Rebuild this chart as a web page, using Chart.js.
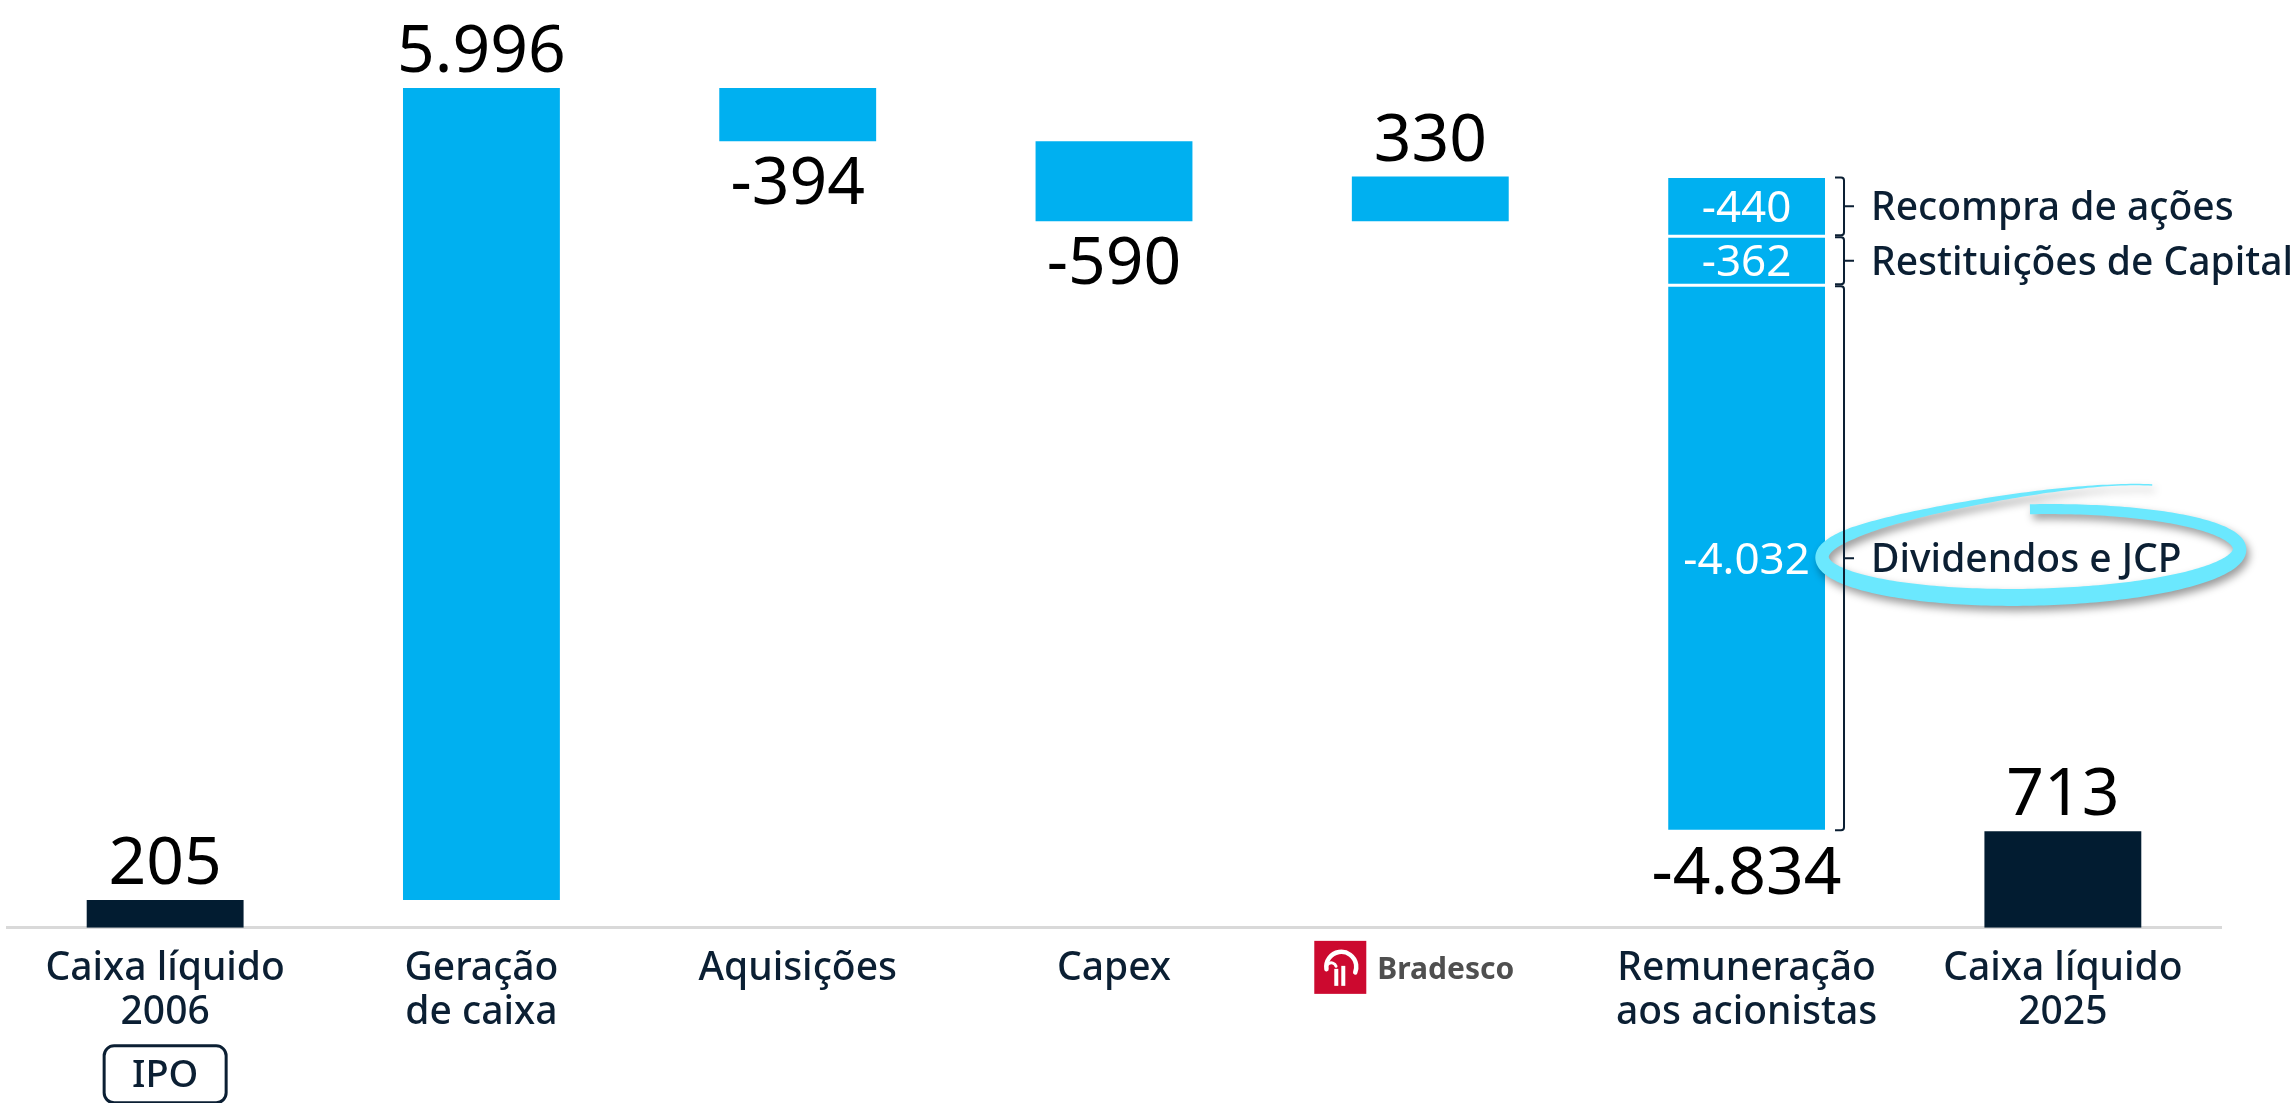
<!DOCTYPE html>
<html lang="pt-BR">
<head>
<meta charset="utf-8">
<title>Caixa líquido 2006 - 2025</title>
<script src="https://cdn.jsdelivr.net/npm/chart.js@4.4.1/dist/chart.umd.min.js"></script>
<style>
  html, body { margin: 0; padding: 0; background: #fff; }
  #wrap { width: 2295px; height: 1103px; position: relative; }
</style>
</head>
<body>
<div id="wrap"><canvas id="cashChart"></canvas></div>
<script>
// x axis categories
var categories = [
  ['Caixa líquido', '2006'],
  ['Geração', 'de caixa'],
  'Aquisições',
  'Capex',
  'Bradesco',
  ['Remuneração', 'aos acionistas'],
  ['Caixa líquido', '2025']
];
// R$ milhões; first and last are balances, the rest are movements
var values  = [205, 5996, -394, -590, 330, -4834, 713];
var isTotal = [true, false, false, false, false, false, true];

// breakdown of the shareholder payout bar
var payoutParts  = [-440, -362, -4032];
var payoutLabels = ['Recompra de ações', 'Restituições de Capital', 'Dividendos e JCP'];
var payoutIndex  = 5;
var logoIndex    = 4;
var highlightPart = 2;

var CYAN = '#00b0f0';
var DARK = '#021c31';
var NAVY = '#0b1f33';
var FONT = '"Noto Sans", "Open Sans", sans-serif';

function fmt(v) {
  var s = Math.abs(v).toString().replace(/\B(?=(\d{3})+(?!\d))/g, '.');
  return (v < 0 ? '-' : '') + s;
}

// floating [from, to] pairs for the waterfall
var run = 0;
var floats = values.map(function(v, i) {
  var pair = isTotal[i] ? [0, v] : [run, run + v];
  run = pair[1];
  return pair;
});
var yMax = Math.max.apply(null, floats.map(function(p) { return Math.max(p[0], p[1]); }));

var mainData = floats.map(function(p, i) { return i === payoutIndex ? null : p; });
var barColors = values.map(function(v, i) { return isTotal[i] ? DARK : CYAN; });

var partStart = floats[payoutIndex][0];
var partSets = payoutParts.map(function(p) {
  var d = categories.map(function() { return null; });
  d[payoutIndex] = [partStart, partStart + p];
  partStart += p;
  return {
    data: d,
    backgroundColor: CYAN,
    borderColor: '#ffffff',
    borderWidth: { top: 1.5, bottom: 1.5, left: 0, right: 0 },
    borderSkipped: false
  };
});

function capY(y, size) { return y + size * 0.357; }

// hand-drawn marker loop around a label
function drawLoop(ctx, cx, cy, rx, ry) {
  var t0 = -Math.PI / 2, t1 = 1.7 * Math.PI, N = 280;
  var pts = [];
  for (var k = 0; k <= N; k++) {
    var f = k / N;
    var t = t0 + (t1 - t0) * f;
    var s = 1;
    if (t > Math.PI) s = 1 + 0.85 * Math.pow((t - Math.PI) / (t1 - Math.PI), 2.6);
    var w = 13.5 + 3.5 * Math.sin(t);
    if (f > 0.76) w = Math.max(1.5, w * (1 - (f - 0.76) / 0.24));
    pts.push({ x: cx + rx * Math.cos(t), y: cy + ry * s * Math.sin(t), w: w });
  }
  var outer = [], inner = [];
  for (var j = 0; j < pts.length; j++) {
    var a = pts[Math.max(0, j - 1)], b = pts[Math.min(pts.length - 1, j + 1)];
    var dx = b.x - a.x, dy = b.y - a.y, len = Math.hypot(dx, dy) || 1;
    var nx = -dy / len, ny = dx / len, h = pts[j].w / 2;
    outer.push([pts[j].x + nx * h, pts[j].y + ny * h]);
    inner.push([pts[j].x - nx * h, pts[j].y - ny * h]);
  }
  ctx.save();
  ctx.translate(cx, cy);
  ctx.rotate(-0.02);
  ctx.translate(-cx, -cy);
  ctx.beginPath();
  ctx.moveTo(outer[0][0], outer[0][1]);
  outer.forEach(function(p) { ctx.lineTo(p[0], p[1]); });
  for (var m = inner.length - 1; m >= 0; m--) ctx.lineTo(inner[m][0], inner[m][1]);
  ctx.closePath();
  ctx.shadowColor = 'rgba(0,0,0,0.4)';
  ctx.shadowBlur = 8;
  ctx.shadowOffsetX = 3;
  ctx.shadowOffsetY = 5;
  ctx.fillStyle = '#6be8fe';
  ctx.fill();
  ctx.restore();
}

var annotations = {
  id: 'annotations',
  afterDatasetsDraw: function(chart) {
    var ctx = chart.ctx, x = chart.scales.x, y = chart.scales.y;

    // value labels above/below each step
    ctx.save();
    ctx.fillStyle = '#000';
    ctx.textAlign = 'center';
    ctx.textBaseline = 'alphabetic';
    ctx.font = '66px ' + FONT;
    values.forEach(function(v, i) {
      var cx = x.getPixelForValue(i);
      var pa = y.getPixelForValue(floats[i][0]), pb = y.getPixelForValue(floats[i][1]);
      if (v >= 0) ctx.fillText(fmt(v), cx, Math.min(pa, pb) - 16);
      else ctx.fillText(fmt(v), cx, Math.max(pa, pb) + 16 + 66 * 0.714);
    });
    ctx.restore();

    // payout breakdown: inner values, brackets and captions
    var bar = chart.getDatasetMeta(1).data[payoutIndex];
    var barRight = bar.x + bar.width / 2;
    var bx = barRight + 19;
    var segs = partSets.map(function(ds) {
      var p = ds.data[payoutIndex];
      return { top: y.getPixelForValue(p[0]), bot: y.getPixelForValue(p[1]) };
    });

    ctx.save();
    ctx.font = '500 39px ' + FONT;
    var hs = segs[highlightPart];
    var hy = (hs.top + hs.bot) / 2;
    var tx = barRight + 46;
    var tw = ctx.measureText(payoutLabels[highlightPart]).width;
    var left = barRight - 3, right = tx + tw + 58;
    drawLoop(ctx, (left + right) / 2, hy - 5, (right - left) / 2, 44);
    ctx.restore();

    ctx.save();
    segs.forEach(function(s, i) {
      var mid = (s.top + s.bot) / 2;
      ctx.fillStyle = '#fff';
      ctx.textAlign = 'center';
      ctx.font = '44px ' + FONT;
      ctx.fillText(fmt(payoutParts[i]), bar.x, capY(mid, 44));

      var yt = s.top + 1, yb = s.bot - 1;
      ctx.strokeStyle = NAVY;
      ctx.lineWidth = 2;
      ctx.beginPath();
      ctx.moveTo(bx - 9, yt);
      ctx.lineTo(bx - 3, yt);
      ctx.quadraticCurveTo(bx, yt, bx, yt + 3);
      ctx.lineTo(bx, yb - 3);
      ctx.quadraticCurveTo(bx, yb, bx - 3, yb);
      ctx.lineTo(bx - 9, yb);
      ctx.moveTo(bx, mid);
      ctx.lineTo(bx + 10, mid);
      ctx.stroke();

      ctx.fillStyle = NAVY;
      ctx.textAlign = 'left';
      ctx.font = '500 39px ' + FONT;
      ctx.fillText(payoutLabels[i], tx, capY(mid, 39));
    });
    ctx.restore();
  },
  afterDraw: function(chart) {
    var ctx = chart.ctx, x = chart.scales.x, base = chart.chartArea.bottom;

    // IPO tag under the first balance
    var ix = x.getPixelForValue(0);
    ctx.save();
    ctx.strokeStyle = NAVY;
    ctx.lineWidth = 3;
    ctx.beginPath();
    ctx.roundRect(ix - 61, base + 118, 122, 57, 10);
    ctx.stroke();
    ctx.fillStyle = NAVY;
    ctx.textAlign = 'center';
    ctx.font = '500 38px ' + FONT;
    ctx.fillText('IPO', ix, capY(base + 146, 38));
    ctx.restore();

    // Bradesco logo in place of the category label
    var lx = x.getPixelForValue(logoIndex) - 116, ly = base + 13;
    ctx.save();
    ctx.fillStyle = '#cc092f';
    ctx.fillRect(lx, ly, 52, 53);
    ctx.strokeStyle = '#fff';
    ctx.lineCap = 'round';
    ctx.lineWidth = 4.5;
    ctx.beginPath();
    ctx.arc(lx + 27, ly + 26, 15, Math.PI * 0.95, Math.PI * 2.12);
    ctx.stroke();
    ctx.lineWidth = 3;
    ctx.beginPath();
    ctx.arc(lx + 17, ly + 27, 5, Math.PI * 1.1, Math.PI * 1.9);
    ctx.stroke();
    ctx.fillStyle = '#fff';
    ctx.fillRect(lx + 20, ly + 28, 4, 17);
    ctx.fillRect(lx + 27, ly + 25, 4, 20);
    ctx.fillStyle = '#4f4f4f';
    ctx.textAlign = 'left';
    ctx.font = 'bold 30px ' + FONT;
    ctx.fillText(categories[logoIndex], lx + 63, capY(ly + 27, 30));
    ctx.restore();
  }
};

new Chart(document.getElementById('cashChart'), {
  type: 'bar',
  data: {
    labels: categories,
    datasets: [{
      data: mainData,
      backgroundColor: barColors,
      borderWidth: 0
    }].concat(partSets)
  },
  options: {
    responsive: true,
    maintainAspectRatio: false,
    animation: false,
    categoryPercentage: 1,
    barPercentage: 0.496,
    layout: { padding: { left: 7, right: 74, top: 88, bottom: 49 } },
    plugins: { legend: { display: false }, tooltip: { enabled: false } },
    scales: {
      x: {
        stacked: true,
        grid: { display: false, drawTicks: false },
        border: { display: true, color: '#d9d9d9', width: 3 },
        ticks: {
          autoSkip: false,
          maxRotation: 0,
          minRotation: 0,
          padding: 19,
          color: NAVY,
          font: { family: FONT, size: 39, weight: '500', lineHeight: 1.13 },
          callback: function(val, i) { return i === logoIndex ? '' : categories[i]; }
        }
      },
      y: { display: false, stacked: false, min: 0, max: yMax }
    }
  },
  plugins: [annotations]
});
</script>
</body>
</html>
